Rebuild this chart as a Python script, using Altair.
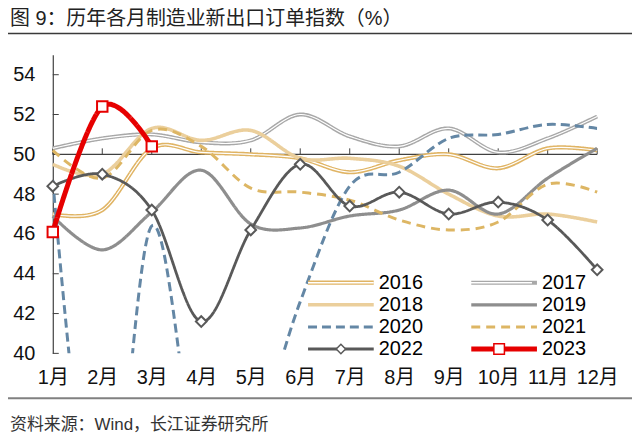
import altair as alt
import pandas as pd

title_text = "图 9：历年各月制造业新出口订单指数（%）"
source_text = "资料来源：Wind，长江证券研究所"

months = list(range(1, 13))
years = ["2016", "2017", "2018", "2019", "2020", "2021", "2022", "2023"]

v2016 = [47.0, 47.2, 50.3, 50.1, 50.0, 49.8, 49.1, 49.7, 50.0, 49.3, 50.3, 50.2]
v2017 = [50.3, 50.8, 51.0, 50.6, 50.7, 52.0, 50.9, 50.4, 51.3, 50.1, 50.8, 51.9]
v2018 = [49.5, 49.0, 51.3, 50.7, 51.2, 49.8, 49.8, 49.4, 48.0, 46.9, 47.0, 46.6]
v2019 = [46.9, 45.2, 47.1, 49.2, 46.5, 46.3, 46.9, 47.2, 48.2, 47.0, 48.8, 50.3]
v2020 = [48.7, 28.7, 46.4, 33.5, 35.3, 42.6, 48.4, 49.1, 50.8, 51.0, 51.5, 51.3]
v2021 = [50.2, 48.8, 51.2, 50.4, 48.3, 48.1, 47.7, 46.7, 46.2, 46.6, 48.5, 48.1]
v2022 = [48.4, 49.0, 47.2, 41.6, 46.2, 49.5, 47.4, 48.1, 47.0, 47.6, 46.7, 44.2]
v2023 = [46.1, 52.4, 50.4]

series = dict(zip(years, [v2016, v2017, v2018, v2019, v2020, v2021, v2022, v2023]))

y_ticks = [40, 42, 44, 46, 48, 50, 52, 54]
axis_cross = 50

line_colors = ["#E0B464", "#A8A8A8", "#EBCF9C", "#8E8E8E", "#6487A5", "#DDB664", "#595959", "#E60000"]
line_widths = [4.2, 4.0, 3.6, 3.2, 3.0, 3.0, 2.8, 5.0]
line_dashes = [[1, 0], [1, 0], [1, 0], [1, 0], [9, 5], [9, 6], [1, 0], [1, 0]]

LINE_PATH = "M-1,0H12.2"
DIAMOND_PATH = "M5.6,-0.94L6.54,0L5.6,0.94L4.66,0Z"
SQUARE_PATH = "M4.54,-1.06H6.66V1.06H4.54Z"
overlay_strokes = ["white", "white", "transparent", "transparent", "transparent", "transparent", "#595959", "#E60000"]
overlay_shapes = [LINE_PATH] * 6 + [DIAMOND_PATH, SQUARE_PATH]

FONT = "Liberation Sans, Noto Sans CJK SC"
AXIS_COLOR = "#404040"

rows = []
for yr, vals in series.items():
    for m, v in zip(months, vals):
        rows.append({"year": yr, "month": m, "v": v})
df = pd.DataFrame(rows)

xscale = alt.Scale(domain=[1, 12], nice=False, zero=False)
yscale = alt.Scale(domain=[40, 55], nice=False, zero=False)
xaxis = alt.Axis(values=months, labelExpr="datum.value + '月'", domain=False, ticks=False, grid=False,
                 labelPadding=14, title=None, labelFontSize=20, labelFont=FONT, labelColor="#111111",
                 labelFlush=False, labelOverlap=False)
yaxis = alt.Axis(values=y_ticks, domain=True, domainColor=AXIS_COLOR, domainWidth=1.2, ticks=False, grid=False,
                 labelPadding=18, title=None, labelFontSize=20, labelFont=FONT, labelColor="#111111",
                 labelFlush=False, labelOverlap=False)


def X(field="month"):
    return alt.X(f"{field}:Q", scale=xscale, axis=xaxis)


def Y(field="v"):
    return alt.Y(f"{field}:Q", scale=yscale, axis=yaxis)


common_legend = dict(title=None, orient="none", legendX=251.5, legendY=219, columns=2, direction="horizontal",
                     symbolType=LINE_PATH, symbolSize=100, labelFont=FONT, labelFontSize=20,
                     labelColor="#000000", labelOffset=56, rowPadding=2.2, columnPadding=38,
                     padding=0, symbolOffset=0, labelLimit=200)
legA = alt.Legend(**common_legend)
legC_args = dict(common_legend)
# overlay legend: blank labels (zero width), so the second column needs extra padding to line up
legC_args.update(labelOpacity=0, labelExpr="'        '", symbolFillColor="white",
                 symbolStrokeWidth=1.5, symbolOpacity=1, columnPadding=83)
legC = alt.Legend(**legC_args)

color_enc = alt.Color("year:N", scale=alt.Scale(domain=years, range=line_colors), legend=legA)
dash_enc = alt.StrokeDash("year:N", scale=alt.Scale(domain=years, range=line_dashes), legend=legA)
width_enc = alt.StrokeWidth("year:N", scale=alt.Scale(type="ordinal", domain=years, range=line_widths), legend=legA)

layers = []

# horizontal axis line at the crossing value and its upward ticks
axis_df = pd.DataFrame({"month": [months[0]], "month2": [months[-1]], "v": [axis_cross]})
layers.append(alt.Chart(axis_df).mark_rule(color=AXIS_COLOR, strokeWidth=1.2).encode(
    x=X(), x2="month2:Q", y=Y()))
xt_df = pd.DataFrame({"month": months, "v": [axis_cross] * len(months)})
layers.append(alt.Chart(xt_df).mark_point(shape="M0,0V-1", size=144, color=AXIS_COLOR, strokeWidth=1,
                                          filled=False, opacity=1).encode(x=X(), y=Y()))
yt_df = pd.DataFrame({"month": [months[0]] * len(y_ticks), "v": y_ticks})
layers.append(alt.Chart(yt_df).mark_point(shape="M0,0H1", size=144, color=AXIS_COLOR, strokeWidth=1,
                                          filled=False, opacity=1).encode(x=X(), y=Y()))

for yr in years:
    base = alt.Chart(df).transform_filter(f"datum.year == '{yr}'")
    layers.append(base.mark_line(interpolate="cardinal", clip=(yr == "2020"), strokeCap="butt").encode(
        x=X(), y=Y(), color=color_enc, strokeDash=dash_enc, strokeWidth=width_enc))
    if yr in ("2016", "2017"):
        layers.append(base.mark_line(interpolate="cardinal", color="white", strokeWidth=1.2).encode(
            x=X(), y=Y()))
    if yr == "2022":
        layers.append(base.mark_point(shape="diamond", size=115, filled=True, fill="white",
                                      stroke="#595959", strokeWidth=2, opacity=1).encode(x=X(), y=Y()))
    if yr == "2023":
        layers.append(base.mark_point(shape="square", size=110, filled=True, fill="white",
                                      stroke="#E60000", strokeWidth=2, opacity=1).encode(x=X(), y=Y()))

# overlay legend (inner white lines and markers)
layers.append(alt.Chart(df).transform_filter("datum.v > 1000").mark_point(
    filled=True, fill="white", strokeWidth=1.5, opacity=1).encode(
    x=X(), y=Y(),
    stroke=alt.Stroke("year:N", scale=alt.Scale(domain=years, range=overlay_strokes), legend=legC),
    shape=alt.Shape("year:N", scale=alt.Scale(domain=years, range=overlay_shapes), legend=legC)))

one = pd.DataFrame({"t": [title_text]})
src = pd.DataFrame({"t": [source_text]})
layers.append(alt.Chart(one).mark_text(align="left", baseline="middle", font=FONT, fontSize=20,
                                       color="#222222").encode(
    text="t:N", x=alt.value(-43), y=alt.value(-36)))
layers.append(alt.Chart(one).mark_rule(color="#3a3a3a", strokeWidth=1.5).encode(
    x=alt.value(-45), x2=alt.value(582), y=alt.value(-21.5)))
layers.append(alt.Chart(one).mark_rule(color="#808080", strokeWidth=2).encode(
    x=alt.value(-45), x2=alt.value(582), y=alt.value(345)))
layers.append(alt.Chart(src).mark_text(align="left", baseline="middle", font=FONT, fontSize=17,
                                       color="#333333").encode(
    text="t:N", x=alt.value(-43), y=alt.value(372)))

chart = alt.layer(*layers).resolve_scale(stroke="independent", shape="independent").properties(
    width=547, height=300,
    autosize=alt.AutoSizeParams(type="none"),
    padding={"left": 45, "top": 46, "right": 35, "bottom": 80},
    background="white",
).configure_view(stroke=None)

chart.save("out.html", embed_options={"renderer": "svg", "actions": False})
